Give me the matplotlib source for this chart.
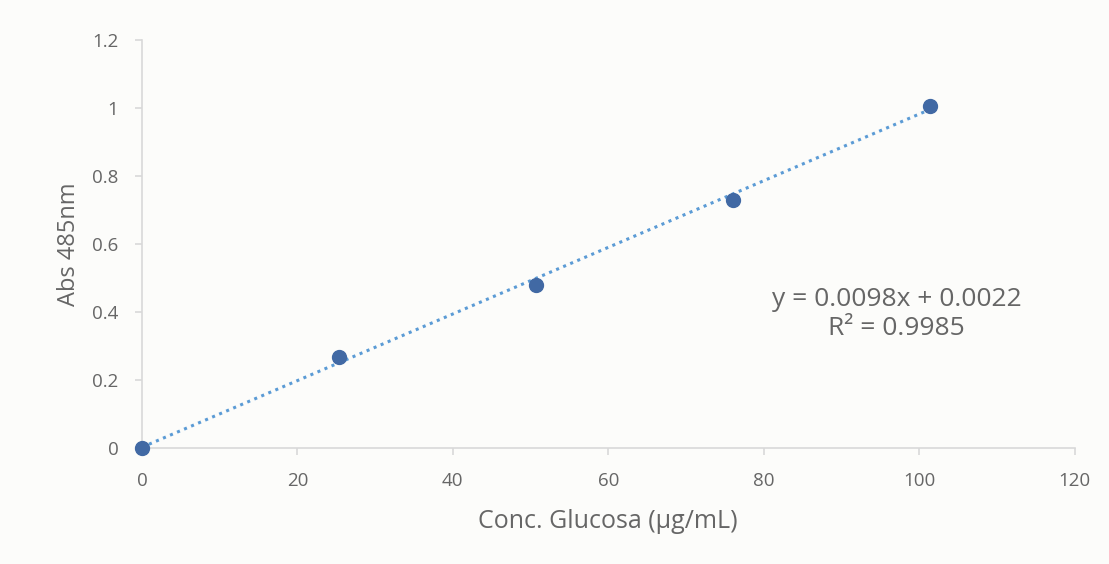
import numpy as np
import matplotlib.pyplot as plt

plt.rcParams['font.family'] = ['Open Sans', 'DejaVu Sans']

# data
conc = np.array([0, 25.34, 50.68, 76.02, 101.36])
absorb = np.array([0.0, 0.267, 0.479, 0.729, 1.007])
slope, intercept = 0.0098, 0.0022
r2 = 0.9985

x_ticks = [0, 20, 40, 60, 80, 100, 120]
y_ticks = [0, 0.2, 0.4, 0.6, 0.8, 1.0, 1.2]
y_labels = ['0', '0.2', '0.4', '0.6', '0.8', '1', '1.2']

grey = '#666666'
axis_grey = '#d9d9d9'

fig = plt.figure(figsize=(11.09, 5.64), dpi=100)
ax = fig.add_axes([0.128, 0.2057, 0.841, 0.7233])
ax.set_facecolor('none')

xfit = np.array([conc.min(), conc.max()])
ax.plot(xfit, slope * xfit + intercept, linestyle=(0, (1, 1.5)), color='#5b9bd5',
        linewidth=2.2, zorder=2, clip_on=False)
ax.plot(conc, absorb, 'o', color='#4169a4', markersize=10, zorder=3, clip_on=False)

ax.set_xlim(0, 120)
ax.set_ylim(0, 1.2)
ax.set_xticks(x_ticks)
ax.set_yticks(y_ticks)
ax.set_yticklabels(y_labels)

for s in ['top', 'right']:
    ax.spines[s].set_visible(False)
for s in ['left', 'bottom']:
    ax.spines[s].set_color(axis_grey)
    ax.spines[s].set_linewidth(1.2)
ax.tick_params(axis='both', colors=axis_grey, labelcolor=grey, labelsize=13.5,
               length=5, width=1.2)
ax.tick_params(axis='x', pad=12)
ax.tick_params(axis='y', pad=12)

ax.set_xlabel('Conc. Glucosa (µg/mL)', fontsize=18, color=grey, labelpad=14)
ax.set_ylabel('Abs 485nm', fontsize=17, color=grey, labelpad=8)

ax.text(97.1, 0.394, f'y = {slope}x + {intercept}\nR² = {r2}',
        fontsize=19, color=grey, ha='center', va='center', linespacing=1.25)

fig.savefig('out.png', dpi=100, facecolor='#fcfcfa')
